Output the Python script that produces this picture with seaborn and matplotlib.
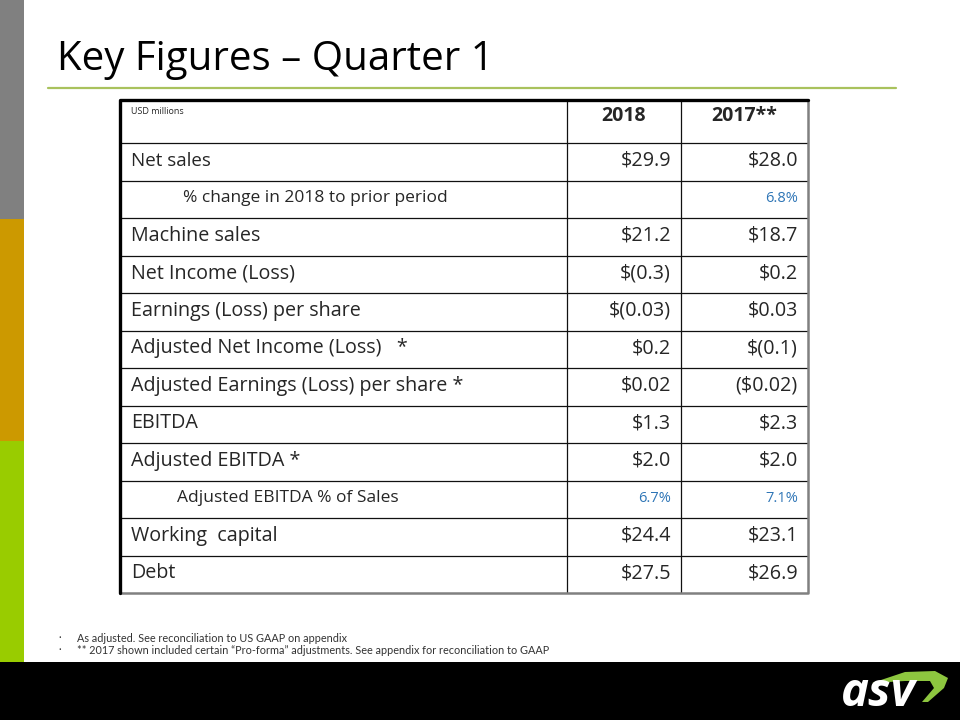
import numpy as np
import pandas as pd
import seaborn as sns
import matplotlib.pyplot as plt
from matplotlib.patches import Rectangle, Polygon

# data
labels = ["Net sales", "% change in 2018 to prior period", "Machine sales",
          "Net Income (Loss)", "Earnings (Loss) per share",
          "Adjusted Net Income (Loss)   *", "Adjusted Earnings (Loss) per share *",
          "EBITDA", "Adjusted EBITDA *", "Adjusted EBITDA % of Sales",
          "Working  capital", "Debt"]
v2018 = ["$29.9", "", "$21.2", "$(0.3)", "$(0.03)", "$0.2", "$0.02",
         "$1.3", "$2.0", "6.7%", "$24.4", "$27.5"]
v2017 = ["$28.0", "6.8%", "$18.7", "$0.2", "$0.03", "$(0.1)", "($0.02)",
         "$2.3", "$2.0", "7.1%", "$23.1", "$26.9"]
is_sub = [False, True, False, False, False, False, False, False, False, True, False, False]
columns = ["2018", "2017**"]
unit = "USD millions"
title = "Key Figures \u2013 Quarter 1"
notes = ["As adjusted. See reconciliation to US GAAP on appendix",
         "** 2017 shown included certain \u201cPro-forma\u201d adjustments. See appendix for reconciliation to GAAP"]

df = pd.DataFrame({"label": labels, "2018": v2018, "2017**": v2017, "sub": is_sub})

sns.set_theme(style="white")
plt.rcParams['font.family'] = ['Open Sans', 'DejaVu Sans']

fig = plt.figure(figsize=(9.6, 7.2), dpi=100)
ax = fig.add_axes([0, 0, 1, 1])
ax.set_xlim(0, 960)
ax.set_ylim(720, 0)
ax.axis("off")

# slide decoration
ax.add_patch(Rectangle((0, 0), 24, 219, color="#808080", lw=0))
ax.add_patch(Rectangle((0, 219), 24, 222, color="#CC9900", lw=0))
ax.add_patch(Rectangle((0, 441), 24, 221, color="#99CC00", lw=0))
ax.add_patch(Rectangle((0, 662), 960, 58, color="black", lw=0))
ax.plot([48, 896], [88, 88], color="#A9C25D", lw=1.6)
ax.text(57, 60, title, fontsize=29, color="black", va="center", ha="left")

# logo
ax.add_patch(Polygon([[872, 683], [905, 672], [935, 671], [948, 678], [944, 688],
                      [928, 702], [922, 702], [934, 688], [930, 681], [905, 681]],
                     closed=True, color="#8DC63F", lw=0))
ax.text(878, 694, "asv", fontsize=34, color="white", fontweight="bold",
        style="italic", ha="center", va="center")

# table geometry
x_edges = [120, 567, 681, 808]
top, head_h, row_h = 100, 43, 37.5
y_edges = top + head_h + row_h * np.arange(len(df) + 1)
y_edges = np.concatenate([[top], y_edges])
bottom = y_edges[-1]

ax.hlines(y_edges[1:-1], x_edges[0], x_edges[-1], color="#111111", lw=0.9)
ax.vlines(x_edges[1:-1], top, bottom, color="#111111", lw=0.9)
ax.plot([x_edges[-1], x_edges[-1], x_edges[0]], [top, bottom, bottom], color="#808080", lw=1.8)
ax.plot([x_edges[0], x_edges[0], x_edges[-1]], [bottom, top, top], color="black", lw=2.4)

# header
ax.text(131, 112, unit, fontsize=6.5, ha="left", va="center")
ax.text((x_edges[1] + x_edges[2]) / 2, 116, columns[0], fontsize=14, fontweight="bold",
        ha="center", va="center")
ax.text((x_edges[2] + x_edges[3]) / 2, 116, columns[1], fontsize=14, fontweight="bold",
        ha="center", va="center")

blue = "#2E75B6"
for i, r in df.iterrows():
    yc = (y_edges[i + 1] + y_edges[i + 2]) / 2 - 1
    if r["sub"]:
        ax.text(183 if i == 1 else 177, yc, r["label"], fontsize=12.5, ha="left", va="center")
        ax.text(x_edges[2] - 10, yc, r["2018"], fontsize=10.5, color=blue, ha="right", va="center")
        ax.text(x_edges[3] - 10, yc, r["2017**"], fontsize=10.5, color=blue, ha="right", va="center")
    else:
        fs = 13.5 if i == 0 else 14.2
        ax.text(131, yc, r["label"], fontsize=fs, ha="left", va="center")
        ax.text(x_edges[2] - 10, yc, r["2018"], fontsize=14.2, ha="right", va="center")
        ax.text(x_edges[3] - 10, yc, r["2017**"], fontsize=14.2, ha="right", va="center")

# footnotes
for k, n in enumerate(notes):
    ax.text(58, 639 + 11 * k, "\u2022", fontsize=5, color="#333333", va="center")
    ax.text(77, 639 + 11 * k, n, fontsize=7.8, color="#333333", va="center", family="Lato")

fig.savefig("out.png", dpi=100)
